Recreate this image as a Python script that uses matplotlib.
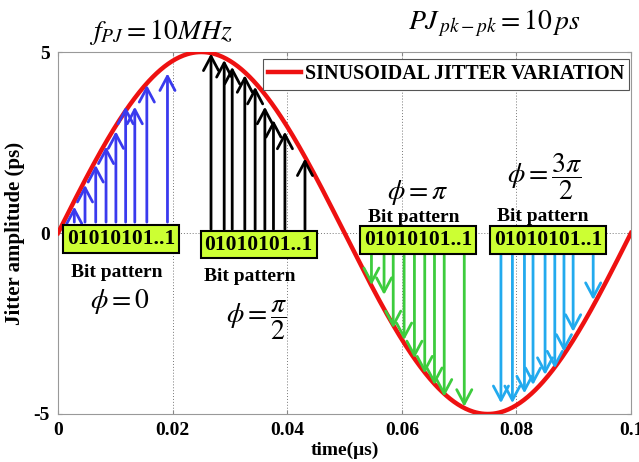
import numpy as np
import matplotlib
matplotlib.use("Agg")
import matplotlib.pyplot as plt

plt.rcParams["font.family"] = ["Liberation Serif", "DejaVu Serif"]
plt.rcParams["font.weight"] = "normal"
plt.rcParams["mathtext.fontset"] = "stix"

# Periodic jitter parameters
f_pj_mhz = 10.0          # jitter frequency (MHz)
pj_pkpk = 10.0           # peak-to-peak jitter (ps)

# Sampled bit edges for each starting phase: time (us), arrow tip (ps), arrow base (ps)
t_phase0 = [0.00284, 0.00471, 0.00658, 0.00838, 0.0101, 0.0118, 0.0134, 0.0155, 0.0191]
y_phase0 = [0.73, 1.33, 1.88, 2.39, 2.81, 3.49, 3.49, 4.09, 4.41]
base_phase0 = 0.30

t_phase90 = [0.0267, 0.0290, 0.0304, 0.0326, 0.0344, 0.0361, 0.0376, 0.0396, 0.0431]
y_phase90 = [4.96, 4.78, 4.59, 4.36, 4.04, 3.49, 3.12, 2.80, 2.06]
base_phase90 = 0.10

t_phase180 = [0.0547, 0.0569, 0.0585, 0.0604, 0.0622, 0.0640, 0.0657, 0.0674, 0.0709]
y_phase180 = [-1.44, -1.71, -2.63, -2.96, -3.46, -3.88, -4.20, -4.52, -4.80]
base_phase180 = -0.62

t_phase270 = [0.0773, 0.0793, 0.0814, 0.0829, 0.0850, 0.0867, 0.0883, 0.0899, 0.0934]
y_phase270 = [-4.70, -4.70, -4.43, -4.20, -3.92, -3.74, -3.28, -2.73, -1.85]
base_phase270 = -0.62

xticks = [0, 0.02, 0.04, 0.06, 0.08, 0.1]
xtick_labels = ["0", "0.02", "0.04", "0.06", "0.08", "0.1"]
yticks = [-5, 0, 5]
ytick_labels = ["-5", "0", "5"]

bit_text = "01010101..1"
box_color = "#ccff33"

fig = plt.figure(figsize=(6.39, 4.62), dpi=100)
ax = fig.add_axes([0.0908, 0.1039, 0.8967, 0.7835])

# Sinusoidal jitter curve
t = np.linspace(0, 0.1, 600)
amp = pj_pkpk / 2
jit = amp * np.sin(2 * np.pi * f_pj_mhz * t)
ax.plot(t, jit, color="#ee1111", lw=3.2, label="SINUSOIDAL JITTER VARIATION", zorder=3)

def draw_arrows(ts, ys, base, color):
    for tx, ty in zip(ts, ys):
        ax.annotate("", xy=(tx, ty), xytext=(tx, base),
                    arrowprops=dict(arrowstyle="->,head_length=0.6,head_width=0.32",
                                    color=color, lw=2.0, mutation_scale=17,
                                    shrinkA=0, shrinkB=0),
                    zorder=4)

draw_arrows(t_phase0, y_phase0, base_phase0, "#3a3aee")
draw_arrows(t_phase90, y_phase90, base_phase90, "black")
draw_arrows(t_phase180, y_phase180, base_phase180, "#3dcc3d")
draw_arrows(t_phase270, y_phase270, base_phase270, "#22aaee")

# Bit pattern boxes
box_kw = dict(ha="center", va="center", fontsize=15.5, fontweight="bold", zorder=6,
              bbox=dict(boxstyle="square,pad=0.18", fc=box_color, ec="black", lw=1.5))
ax.text(0.0110, -0.17, bit_text, **box_kw)
ax.text(0.0350, -0.32, bit_text, **box_kw)
ax.text(0.0628, -0.20, bit_text, **box_kw)
ax.text(0.0855, -0.19, bit_text, **box_kw)

lbl_kw = dict(ha="center", va="center", fontsize=14, fontweight="bold", zorder=6)
ax.text(0.0102, -1.08, "Bit pattern", **lbl_kw)
ax.text(0.0335, -1.20, "Bit pattern", **lbl_kw)
ax.text(0.0620, 0.42, "Bit pattern", **lbl_kw)
ax.text(0.0846, 0.45, "Bit pattern", **lbl_kw)

phi_kw = dict(ha="center", va="center", fontsize=20, zorder=6)
ax.text(0.0108, -1.90, r"$\phi = 0$", **phi_kw)
ax.text(0.0347, -2.40, r"$\phi = \dfrac{\pi}{2}$", **phi_kw)
ax.text(0.0627, 1.13, r"$\phi = \pi$", **phi_kw)
ax.text(0.0850, 1.55, r"$\phi = \dfrac{3\pi}{2}$", **phi_kw)

# Header annotations
ax.text(0.0180, 5.55, r"$f_{PJ} = 10MHz$", ha="center", va="center", fontsize=20, clip_on=False)
ax.text(0.0761, 5.80, r"$PJ_{\,pk-pk} = 10\,ps$", ha="center", va="center", fontsize=20, clip_on=False)

ax.set_xlim(0, 0.1)
ax.set_ylim(-5, 5)
ax.set_xticks(xticks)
ax.set_xticklabels(xtick_labels)
ax.set_yticks(yticks)
ax.set_yticklabels(ytick_labels)
ax.tick_params(labelsize=14, direction="in", length=3, color="#888888",
               top=True, right=True, pad=6)
for lab in ax.get_xticklabels() + ax.get_yticklabels():
    lab.set_fontweight("bold")
for s in ax.spines.values():
    s.set_color("#999999")
    s.set_linewidth(0.8)

for xv in xticks[1:-1]:
    ax.axvline(xv, color="#777777", lw=0.7, ls=(0, (1, 2)), zorder=1)
ax.axhline(0, color="#777777", lw=0.7, ls=(0, (1, 2)), zorder=1)

ax.set_xlabel("time(\u03bcs)", fontsize=14, fontweight="bold", labelpad=2)
ax.set_ylabel("Jitter amplitude (ps)", fontsize=15, fontweight="bold", labelpad=6)

leg = ax.legend(loc="upper right", bbox_to_anchor=(1.0, 0.985),
                prop=dict(weight="bold", size=14.5), handlelength=1.6, handletextpad=0.2,
                borderpad=0.25, borderaxespad=0.1, fancybox=False, framealpha=1,
                edgecolor="#555555")
leg.get_frame().set_linewidth(0.8)
leg.set_zorder(7)

fig.savefig("out.png", dpi=100)
